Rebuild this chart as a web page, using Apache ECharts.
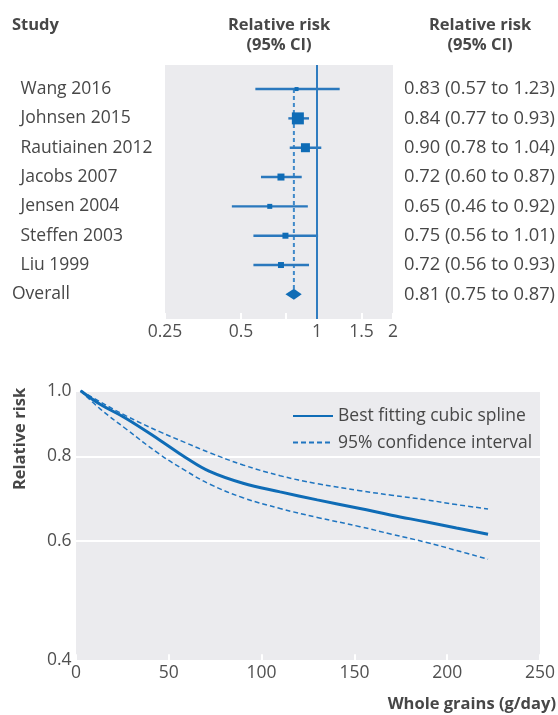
<!DOCTYPE html>
<html><head><meta charset="utf-8">
<script src="https://cdn.jsdelivr.net/npm/echarts@6/dist/echarts.min.js"></script>
<style>html,body{margin:0;padding:0;background:#fff}#c{width:558px;height:715px}</style>
</head><body><div id="c"></div>
<script>
// ---- Forest plot data ----
const studies = ['Wang 2016','Johnsen 2015','Rautiainen 2012','Jacobs 2007','Jensen 2004','Steffen 2003','Liu 1999'];
const rr      = [0.83, 0.84, 0.90, 0.72, 0.65, 0.75, 0.72];
const ciLow   = [0.57, 0.77, 0.78, 0.60, 0.46, 0.56, 0.56];
const ciHigh  = [1.23, 0.93, 1.04, 0.87, 0.92, 1.01, 0.93];
const overallLabel = 'Overall';
const overallRR = 0.81, overallLow = 0.75, overallHigh = 0.87;
const forestTicks = [0.25, 0.5, 0.75, 1, 1.5, 2];
const forestTickLabels = [0.25, 0.5, 1, 1.5, 2];

// ---- Dose-response data ----
const intake   = [2.5, 13, 27, 45, 59, 72, 90, 110, 130, 153, 170, 189, 205, 222];
const splineRR = [1.0, 0.955, 0.910, 0.846, 0.797, 0.760, 0.730, 0.709, 0.690, 0.670, 0.655, 0.640, 0.627, 0.614];
const upperRR  = [1.0, 0.963, 0.918, 0.870, 0.838, 0.810, 0.777, 0.749, 0.729, 0.712, 0.701, 0.690, 0.679, 0.669];
const lowerRR  = [1.0, 0.940, 0.878, 0.806, 0.762, 0.728, 0.695, 0.670, 0.650, 0.630, 0.614, 0.597, 0.581, 0.564];
const rrTicks  = [0.4, 0.6, 0.8, 1.0];

// ---- styles ----
const squareSize = [4, 12, 9, 7, 5, 6, 6];
const FONT = "'Open Sans', sans-serif";
const TXT = '#474747';
const BLUE = '#0f6cb6';
const PANEL = '#ebebee';
const BOLD = "bold 16.5px 'Open Sans', sans-serif";

const rows = studies.map((s, i) => i + 1);
const overallRow = studies.length + 1;
const allRows = rows.concat([overallRow]);
const f2 = v => v.toFixed(2);

const chart = echarts.init(document.getElementById('c'), null, {renderer: 'canvas'});
chart.setOption({
  animation: false,
  textStyle: {fontFamily: FONT},
  grid: [
    {left: 165, width: 229, top: 65, height: 254, show: true, backgroundColor: PANEL, borderWidth: 0},
    {left: 76, right: 17.3, top: 390.7, height: 269.6, show: true, backgroundColor: PANEL, borderWidth: 0}
  ],
  xAxis: [
    {type: 'log', logBase: 2, gridIndex: 0, min: 0.25, max: 2,
     axisLine: {show: false},
     axisTick: {show: true, inside: true, length: 6, lineStyle: {color: '#fff', width: 2}, customValues: forestTicks},
     splitLine: {show: false}, minorTick: {show: false},
     axisLabel: {customValues: forestTickLabels, formatter: v => String(+(+v).toPrecision(3)), margin: 4,
                 fontSize: 17.5, color: '#505050', fontFamily: FONT}},
    {type: 'value', gridIndex: 1, min: 0, max: 250, interval: 50,
     axisLine: {show: false},
     axisTick: {show: true, inside: true, length: 6, lineStyle: {color: '#fff', width: 2}},
     splitLine: {show: false},
     axisLabel: {margin: 4, fontSize: 17.5, color: '#505050', fontFamily: FONT}}
  ],
  yAxis: [
    {type: 'value', gridIndex: 0, inverse: true, min: 0.18, max: 8.84,
     axisLine: {show: false}, axisTick: {show: false, customValues: allRows}, splitLine: {show: false},
     axisLabel: {customValues: allRows, align: 'left', margin: 153,
       formatter: v => v <= studies.length ? '{s|' + studies[v - 1] + '}' : '{o|' + overallLabel + '}',
       rich: {s: {padding: [0, 0, 0, 8.5], fontSize: 17.5, color: TXT, fontFamily: FONT},
              o: {fontSize: 17.5, color: TXT, fontFamily: FONT}}}},
    {type: 'value', gridIndex: 0, inverse: true, min: 0.18, max: 8.84, position: 'right',
     axisLine: {show: false}, axisTick: {show: false, customValues: allRows}, splitLine: {show: false},
     axisLabel: {customValues: allRows, align: 'left', margin: 11, fontSize: 18.3, color: TXT, fontFamily: FONT,
       formatter: v => v <= studies.length
         ? f2(rr[v - 1]) + ' (' + f2(ciLow[v - 1]) + ' to ' + f2(ciHigh[v - 1]) + ')'
         : f2(overallRR) + ' (' + f2(overallLow) + ' to ' + f2(overallHigh) + ')'}},
    {type: 'log', gridIndex: 1, min: 0.4, max: 1.0,
     axisLine: {show: false},
     axisTick: {show: false, customValues: rrTicks},
     minorTick: {show: false}, minorSplitLine: {show: false},
     splitLine: {show: true, lineStyle: {color: '#fff', width: 2}},
     axisLabel: {customValues: rrTicks, formatter: v => (+v).toFixed(1), margin: 4.5,
                 fontSize: 17.5, color: '#505050', fontFamily: FONT}}
  ],
  legend: {
    data: ['Best fitting cubic spline', '95% confidence interval'],
    orient: 'vertical', left: 287, top: 401, itemWidth: 40, itemHeight: 14, itemGap: 6.6,
    selectedMode: false,
    itemStyle: {opacity: 0},
    textStyle: {fontSize: 17.5, color: TXT, fontFamily: FONT, lineHeight: 20}
  },
  series: [
    // pooled estimate dashed line + reference line at 1
    {type: 'line', xAxisIndex: 0, yAxisIndex: 0, symbol: 'none', silent: true, z: 2,
     data: [[overallRR, rows[0]], [overallRR, overallRow]],
     lineStyle: {color: '#3f89c9', width: 2, type: [4, 3]},
     markLine: {silent: true, symbol: ['none', 'none'], label: {show: false},
       lineStyle: {type: 'solid', color: '#2f7cc0', width: 2}, data: [{xAxis: 1}]}},
    // CI whiskers
    {type: 'custom', xAxisIndex: 0, yAxisIndex: 0, z: 3,
     data: studies.map((s, i) => [ciLow[i], ciHigh[i], rows[i]]),
     encode: {x: [0, 1], y: 2},
     renderItem: (params, api) => {
       const a = api.coord([api.value(0), api.value(2)]);
       const b = api.coord([api.value(1), api.value(2)]);
       return {type: 'line', shape: {x1: a[0], y1: a[1], x2: b[0], y2: b[1]},
               style: {stroke: '#2a78bd', lineWidth: 2.4}};
     }},
    // study estimates
    {type: 'scatter', xAxisIndex: 0, yAxisIndex: 0, z: 4, symbol: 'rect',
     symbolSize: (val, params) => squareSize[params.dataIndex],
     itemStyle: {color: BLUE, opacity: 1},
     data: studies.map((s, i) => [rr[i], rows[i]])},
    // overall diamond
    {type: 'custom', xAxisIndex: 0, yAxisIndex: 0, z: 5,
     data: [[overallLow, overallRR, overallHigh, overallRow]],
     encode: {x: [0, 2], y: 3},
     renderItem: (params, api) => {
       const l = api.coord([api.value(0), api.value(3)]);
       const m = api.coord([api.value(1), api.value(3)]);
       const r = api.coord([api.value(2), api.value(3)]);
       const h = 5.5;
       return {type: 'polygon', shape: {points: [[l[0], l[1]], [m[0], m[1] - h], [r[0], r[1]], [m[0], m[1] + h]]},
               style: {fill: BLUE}};
     }},
    // dose-response
    {name: 'Best fitting cubic spline', type: 'line', xAxisIndex: 1, yAxisIndex: 2, smooth: 0.4,
     symbol: 'none', z: 4, lineStyle: {color: BLUE, width: 3}, itemStyle: {color: BLUE},
     data: intake.map((x, i) => [x, splineRR[i]])},
    {name: '95% confidence interval', type: 'line', xAxisIndex: 1, yAxisIndex: 2, smooth: 0.4,
     symbol: 'none', z: 3, lineStyle: {color: '#1f75c0', width: 1.5, type: [5, 3]}, itemStyle: {color: '#1f75c0'},
     data: intake.map((x, i) => [x, upperRR[i]])},
    {name: '95% confidence interval', type: 'line', xAxisIndex: 1, yAxisIndex: 2, smooth: 0.4,
     symbol: 'none', z: 3, lineStyle: {color: '#1f75c0', width: 1.5, type: [5, 3]}, itemStyle: {color: '#1f75c0'},
     data: intake.map((x, i) => [x, lowerRR[i]])}
  ],
  graphic: [
    {type: 'text', x: 12, y: 15, style: {text: 'Study', lineHeight: 20, font: BOLD, fill: TXT}},
    {type: 'text', x: 279, y: 15, style: {text: 'Relative risk\n(95% CI)', align: 'center', lineHeight: 20, font: BOLD, fill: TXT}},
    {type: 'text', x: 480, y: 15, style: {text: 'Relative risk\n(95% CI)', align: 'center', lineHeight: 20, font: BOLD, fill: TXT}},
    {type: 'text', x: 20, y: 439, rotation: Math.PI / 2,
      style: {text: 'Relative risk', align: 'center', verticalAlign: 'middle', font: BOLD, fill: TXT}},
    {type: 'text', x: 556, y: 704, style: {text: 'Whole grains (g/day)', align: 'right', verticalAlign: 'middle', font: BOLD, fill: TXT}}
  ]
});
</script>
</body></html>
